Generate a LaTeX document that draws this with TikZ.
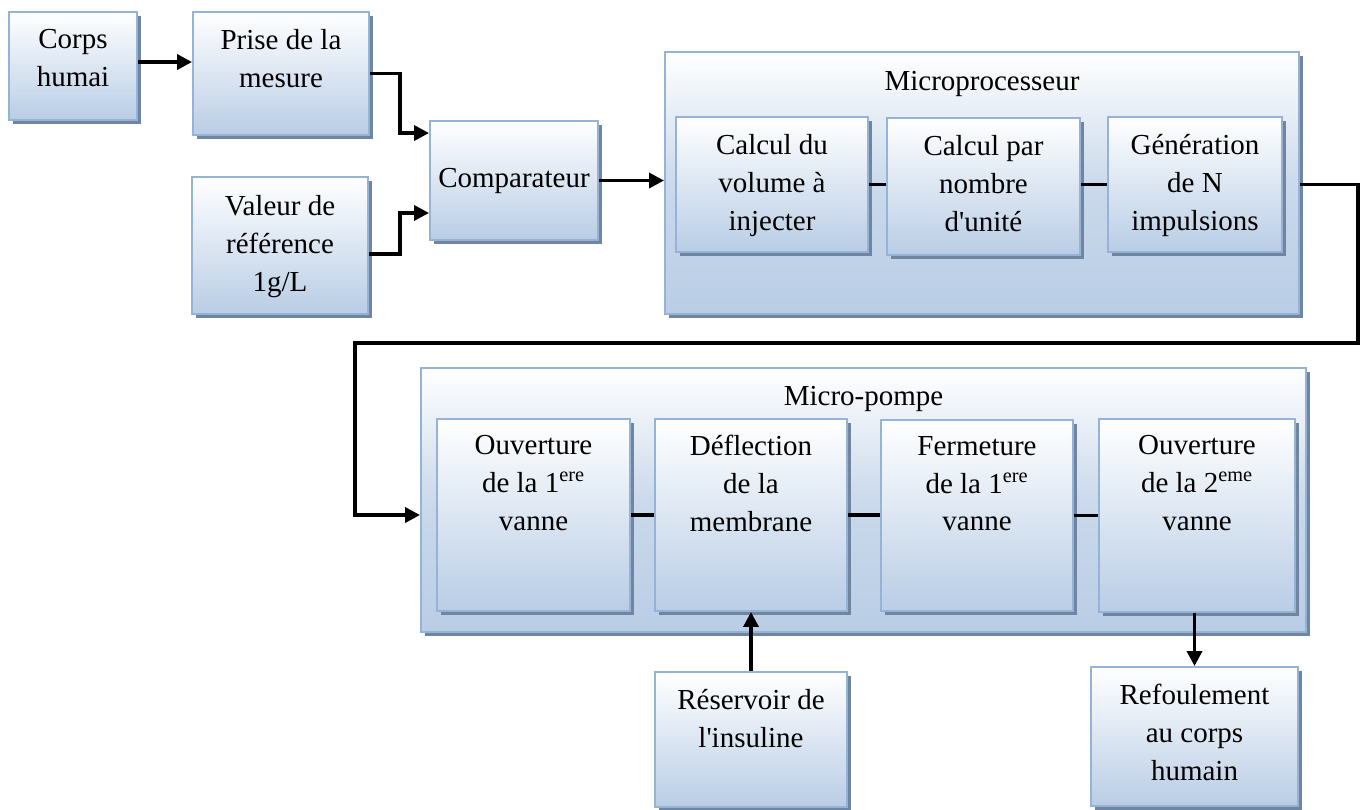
\documentclass[tikz,border=0pt]{standalone}
\usepackage{fontspec}
\setmainfont{Liberation Serif}
\usepackage{xcolor}
\usepackage{tikz}
\usetikzlibrary{arrows.meta, positioning, calc, shadows}
\definecolor{boxblue}{RGB}{185, 205, 229}
\definecolor{boxedge}{RGB}{149, 179, 215}
\definecolor{boxshadow}{RGB}{112, 133, 160}

\begin{document}
\begin{tikzpicture}[
        font=\fontsize{16.5}{21.5}\selectfont,
        bloc/.style={draw=boxedge, line width=1.1pt, top color=white, bottom color=boxblue,
            drop shadow={shadow xshift=0.07cm, shadow yshift=-0.07cm, fill=boxshadow, opacity=1}},
        cadre/.style={bloc, middle color=boxblue!75!white},
        txt/.style={align=center, inner sep=0pt},
        lien/.style={line width=2pt},
        fleche/.style={line width=2pt, -{Triangle[length=0.3cm, width=0.3cm]}}
    ]
        \useasboundingbox (0,0) rectangle (27.28,-16.18);

        % Chaine de mesure
        \node[bloc, minimum width=2.56cm, minimum height=2.16cm] (corps) at (1.46,-1.32) {};
        \node[txt, below=0.36cm of corps.north] (corpst) {Corps\\humai};
        \node[bloc, minimum width=3.52cm, minimum height=2.46cm] (prise) at (5.62,-1.47) {};
        \node[txt, below=0.36cm of prise.north] (priset) {Prise de la\\mesure};
        \node[bloc, minimum width=3.52cm, minimum height=2.74cm] (valeur) at (5.60,-4.91) {};
        \node[txt, below=0.38cm of valeur.north] (valeurt) {Valeur de\\référence\\1g/L};
        \node[bloc, minimum width=3.36cm, minimum height=2.38cm] (comp) at (10.28,-3.61) {Comparateur};

        % Microprocesseur
        \node[cadre, minimum width=12.68cm, minimum height=5.24cm] (micro) at (19.64,-3.66) {};
        \node[txt, below=0.4cm of micro.north] (microt) {Microprocesseur};
        \node[bloc, minimum width=3.84cm, minimum height=2.70cm] (cv) at (15.44,-3.69) {};
        \node[txt, below=0.36cm of cv.north] (cvt) {Calcul du\\volume à\\injecter};
        \node[bloc, minimum width=3.86cm, minimum height=2.74cm] (cn) at (19.67,-3.73) {};
        \node[txt, below=0.36cm of cn.north] (cnt) {Calcul par\\nombre\\d\textquotesingle unité};
        \node[bloc, minimum width=3.48cm, minimum height=2.70cm] (gen) at (23.90,-3.69) {};
        \node[txt, below=0.36cm of gen.north] (gent) {Génération\\de N\\impulsions};

        % Micro-pompe
        \node[cadre, minimum width=17.70cm, minimum height=5.28cm] (pompe) at (17.27,-10.00) {};
        \node[txt, below=0.38cm of pompe.north] (pompet) {Micro-pompe};
        \node[bloc, minimum width=3.86cm, minimum height=3.84cm] (ouv1) at (10.67,-10.30) {};
        \node[txt, below=0.34cm of ouv1.north] (ouv1t) {Ouverture\\de la 1\textsuperscript{ere}\\vanne};
        \node[bloc, minimum width=3.84cm, minimum height=3.84cm] (defl) at (15.02,-10.30) {};
        \node[txt, below=0.34cm of defl.north] (deflt) {Déflection\\de la\\membrane};
        \node[bloc, minimum width=3.84cm, minimum height=3.82cm] (ferm) at (19.54,-10.31) {};
        \node[txt, below=0.34cm of ferm.north] (fermt) {Fermeture\\de la 1\textsuperscript{ere}\\vanne};
        \node[bloc, minimum width=3.92cm, minimum height=3.86cm] (ouv2) at (23.94,-10.31) {};
        \node[txt, below=0.34cm of ouv2.north] (ouv2t) {Ouverture\\de la 2\textsuperscript{eme}\\vanne};

        % Entree et sortie de la pompe
        \node[bloc, minimum width=3.84cm, minimum height=2.70cm] (res) at (15.02,-14.79) {};
        \node[txt, below=0.36cm of res.north] (rest) {Réservoir de\\l\textquotesingle insuline};
        \node[bloc, minimum width=4.14cm, minimum height=2.78cm] (ref) at (23.89,-14.73) {};
        \node[txt, below=0.36cm of ref.north] (reft) {Refoulement\\au corps\\humain};

        % Liaisons
        \coordinate (c1) at (27.16,-6.86);
        \coordinate (c2) at (7.10,-6.86);
        \draw[fleche] (corps.east |- 0,-1.24) -- (prise.west |- 0,-1.24);
        \draw[fleche] (prise.east) -- ++(0.6,0) |- ([yshift=-0.26cm]comp.north west);
        \draw[fleche] ([yshift=-0.17cm]valeur.east) -- ++(0.62,0) |- ([yshift=0.56cm]comp.south west);
        \draw[fleche] (comp.east) -- (comp.east -| micro.west);
        \draw[lien] (cv.east) -- (cv.east -| cn.west);
        \draw[lien] (gen.west -| cn.east) -- (gen.west);
        \draw[fleche] (gen -| micro.east) -| (c1) -- (c2) |- (ouv1 -| pompe.west);
        \draw[lien] (ouv1.east) -- (defl.west);
        \draw[lien] (defl.east) -- (defl.east -| ferm.west);
        \draw[lien] (ferm.east) -- (ferm.east -| ouv2.west);
        \draw[fleche] (res.north) -- (defl.south);
        \draw[fleche] (ouv2.south -| ref.north) -- (ref.north);
    \end{tikzpicture}
\end{document}
